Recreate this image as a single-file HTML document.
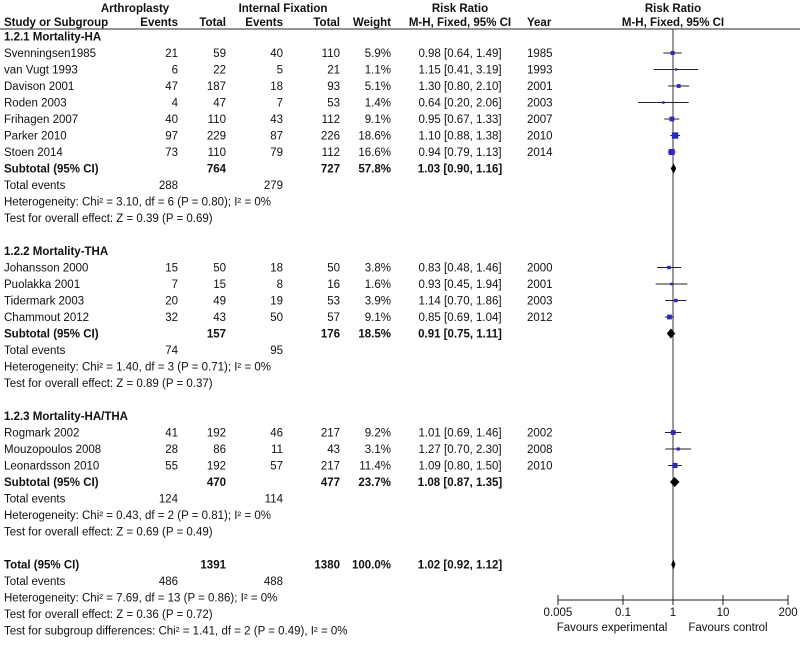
<!DOCTYPE html>
<html><head><meta charset="utf-8"><style>
body{margin:0;background:#fff;}
svg{display:block;font-family:"Liberation Sans",Arial,sans-serif;font-size:11.5px;fill:#111;}
.b{font-weight:bold;}
</style></head><body>
<svg id="c" width="800" height="646"></svg>
<script>
const studies=["Svenningsen1985","van Vugt 1993","Davison 2001","Roden 2003","Frihagen 2007","Parker 2010","Stoen 2014","Johansson 2000","Puolakka 2001","Tidermark 2003","Chammout 2012","Rogmark 2002","Mouzopoulos 2008","Leonardsson 2010"];
const groupOf=[0,0,0,0,0,0,0,1,1,1,1,2,2,2];
const ev1=[21,6,47,4,40,97,73,15,7,20,32,41,28,55];
const tot1=[59,22,187,47,110,229,110,50,15,49,43,192,86,192];
const ev2=[40,5,18,7,43,87,79,18,8,19,50,46,11,57];
const tot2=[110,21,93,53,112,226,112,50,16,53,57,217,43,217];
const weights=[5.9,1.1,5.1,1.4,9.1,18.6,16.6,3.8,1.6,3.9,9.1,9.2,3.1,11.4];
const rr=[0.98,1.15,1.30,0.64,0.95,1.10,0.94,0.83,0.93,1.14,0.85,1.01,1.27,1.09];
const lo=[0.64,0.41,0.80,0.20,0.67,0.88,0.79,0.48,0.45,0.70,0.69,0.69,0.70,0.80];
const hi=[1.49,3.19,2.10,2.06,1.33,1.38,1.13,1.46,1.94,1.86,1.04,1.46,2.30,1.50];
const years=[1985,1993,2001,2003,2007,2010,2014,2000,2001,2003,2012,2002,2008,2010];
const groupNames=["1.2.1 Mortality-HA","1.2.2 Mortality-THA","1.2.3 Mortality-HA/THA"];
const subTot1=[764,157,470], subTot2=[727,176,477], subW=[57.8,18.5,23.7];
const subRR=[1.03,0.91,1.08], subLo=[0.90,0.75,0.87], subHi=[1.16,1.11,1.35];
const subEv1=[288,74,124], subEv2=[279,95,114];
const subHet=["Heterogeneity: Chi² = 3.10, df = 6 (P = 0.80); I² = 0%","Heterogeneity: Chi² = 1.40, df = 3 (P = 0.71); I² = 0%","Heterogeneity: Chi² = 0.43, df = 2 (P = 0.81); I² = 0%"];
const subTest=["Test for overall effect: Z = 0.39 (P = 0.69)","Test for overall effect: Z = 0.89 (P = 0.37)","Test for overall effect: Z = 0.69 (P = 0.49)"];
const totalRR=1.02, totalLo=0.92, totalHi=1.12;
const ticks=[0.005,0.1,1,10,200];
const tickLabels=["0.005","0.1","1","10","200"];

const svg=document.getElementById('c');const NS="http://www.w3.org/2000/svg";
function el(t,a,txt){const e=document.createElementNS(NS,t);for(const k in a)e.setAttribute(k,a[k]);if(txt!==undefined)e.textContent=txt;svg.appendChild(e);return e;}
function T(x,y,s,anchor,cls,name){const e=el('text',{x:x,y:y,'text-anchor':anchor||'start'},s);if(cls)e.setAttribute('class',cls);

return e;}
const X=v=>673+50*Math.log10(v);
const RH=16.5; const rowY=i=>53+i*RH;
const fmt=v=>v.toFixed(2);

T(135,12,"Arthroplasty","middle","b","header-arthroplasty");
T(283,12,"Internal Fixation","middle","b","header-internal-fixation");
T(460,12,"Risk Ratio","middle","b","header-risk-ratio");
T(673,12,"Risk Ratio","middle","b","header-risk-ratio-plot");
T(4,26,"Study or Subgroup","start","b","header-study");
T(178,26,"Events","end","b","header-events-1");
T(226,26,"Total","end","b","header-total-1");
T(283,26,"Events","end","b","header-events-2");
T(340,26,"Total","end","b","header-total-2");
T(391,26,"Weight","end","b","header-weight");
T(460,26,"M-H, Fixed, 95% CI","middle","b","header-mh");
T(527,26,"Year","start","b","header-year");
T(673,26,"M-H, Fixed, 95% CI","middle","b","header-mh-plot");
let l=el('line',{x1:0,y1:29,x2:800,y2:29,stroke:'#555','stroke-width':1.2});


l=el('line',{x1:673,y1:29,x2:673,y2:600,stroke:'#333','stroke-width':1});



let row=-1;
function diamond(y,r,a,b,name){const p=el('polygon',{points:`${X(a)},${y} ${X(r)},${y-5} ${X(b)},${y} ${X(r)},${y+5}`,fill:'#000'});

}
for(let g=0;g<3;g++){
  T(4,rowY(row)+4,groupNames[g],"start","b","group-title");
  row++;
  studies.forEach((s,i)=>{if(groupOf[i]!==g)return;const y=rowY(row)+4,cy=rowY(row);
    T(4,y,s,"start","","study-name");T(178,y,ev1[i],"end","","events-1");T(226,y,tot1[i],"end","","total-1");
    T(283,y,ev2[i],"end","","events-2");T(340,y,tot2[i],"end","","total-2");T(391,y,weights[i].toFixed(1)+"%","end","","weight");
    T(460,y,`${fmt(rr[i])} [${fmt(lo[i])}, ${fmt(hi[i])}]`,"middle","","risk-ratio-ci");T(527,y,years[i],"start","","year");
    const ln=el('line',{x1:X(lo[i]),y1:cy,x2:X(hi[i]),y2:cy,stroke:'#222','stroke-width':1});
    
    
    const sz=1+Math.sqrt(weights[i])*1.25;
    const sq=el('rect',{x:X(rr[i])-sz/2,y:cy-sz/2,width:sz,height:sz,fill:'#2b2bb8'});
    
    
    row++;});
  let y=rowY(row)+4;
  T(4,y,"Subtotal (95% CI)","start","b","subtotal-label");T(226,y,subTot1[g],"end","b","subtotal-1");T(340,y,subTot2[g],"end","b","subtotal-2");
  T(391,y,subW[g].toFixed(1)+"%","end","b","subtotal-weight");T(460,y,`${fmt(subRR[g])} [${fmt(subLo[g])}, ${fmt(subHi[g])}]`,"middle","b","subtotal-ci");
  diamond(rowY(row),subRR[g],subLo[g],subHi[g],'subtotal-diamond');row++;
  y=rowY(row)+4;T(4,y,"Total events","start","","total-events-label");T(178,y,subEv1[g],"end","","total-events-1");T(283,y,subEv2[g],"end","","total-events-2");row++;
  T(4,rowY(row)+4,subHet[g],"start","","heterogeneity");row++;
  T(4,rowY(row)+4,subTest[g],"start","","overall-effect");row++;
  row++;
}
let y=rowY(row)+4;
T(4,y,"Total (95% CI)","start","b","total-label");T(226,y,"1391","end","b","total-1");T(340,y,"1380","end","b","total-2");
T(391,y,"100.0%","end","b","total-weight");T(460,y,`${fmt(totalRR)} [${fmt(totalLo)}, ${fmt(totalHi)}]`,"middle","b","total-ci");
diamond(rowY(row),totalRR,totalLo,totalHi,'total-diamond');row++;
y=rowY(row)+4;T(4,y,"Total events","start","","total-events-label");T(178,y,"486","end","","total-events-1");T(283,y,"488","end","","total-events-2");row++;
T(4,rowY(row)+4,"Heterogeneity: Chi² = 7.69, df = 13 (P = 0.86); I² = 0%","start","","heterogeneity");row++;
T(4,rowY(row)+4,"Test for overall effect: Z = 0.36 (P = 0.72)","start","","overall-effect");row++;
T(4,rowY(row)+4,"Test for subgroup differences: Chi² = 1.41, df = 2 (P = 0.49), I² = 0%","start","","subgroup-differences");

l=el('line',{x1:X(ticks[0]),y1:600,x2:X(ticks[ticks.length-1]),y2:600,stroke:'#222','stroke-width':1});


ticks.forEach((t,i)=>{const k=el('line',{x1:X(t),y1:595,x2:X(t),y2:605,stroke:'#222'});


T(X(t),616,tickLabels[i],"middle","","x-tick-label");});
T(612,631,"Favours experimental","middle","","favours-experimental");
T(728,631,"Favours control","middle","","favours-control");
</script>
</body></html>
